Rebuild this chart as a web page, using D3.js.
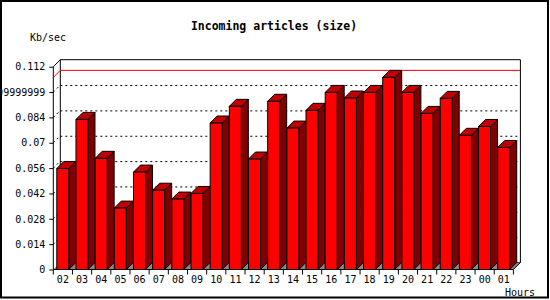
<!DOCTYPE html>
<html>
<head>
<meta charset="utf-8">
<script src="https://cdn.jsdelivr.net/npm/d3@7"></script>
<style>
  body { margin: 0; background: #fff; }
  svg text { font-family: "DejaVu Sans Mono", "Liberation Mono", monospace; }
</style>
</head>
<body>
<div id="chart"></div>
<script>
// hours on the x axis
const hours = ["02","03","04","05","06","07","08","09","10","11","12","13",
               "14","15","16","17","18","19","20","21","22","23","00","01"];
// incoming size, Kb/sec
const sizes = [0.0558, 0.0829, 0.0614, 0.0339, 0.0538, 0.0438, 0.0389, 0.0420,
               0.0809, 0.0901, 0.0610, 0.0929, 0.0781, 0.0879, 0.0978, 0.0947,
               0.0978, 0.1061, 0.0978, 0.0862, 0.0945, 0.0741, 0.0790, 0.0674];
const yTicks = [0, 0.014, 0.028, 0.042, 0.056, 0.07, 0.084, 0.098, 0.112];
const yTickLabels = ["0","0.014","0.028","0.042","0.056","0.07","0.084","0.09999999","0.112"];

const width = 550, height = 300;
const depth = 7; // 3d offset

const svg = d3.select("#chart").append("svg")
    .attr("width", width).attr("height", height);

// outer frame
svg.append("rect")
    .attr("x", 1).attr("y", 1).attr("width", 547).attr("height", 296.5)
    .attr("fill", "#fff").attr("stroke", "#000").attr("stroke-width", 2);

const x = d3.scaleBand().domain(hours).range([53.3, 513.4]);
const y = d3.scaleLinear().domain([0, 0.112]).range([269.5, 66.7]);
const x0 = x.range()[0], x1 = x.range()[1];
const yb = y(0), yt = y(0.112);

// back plane
svg.append("path")
    .attr("d", `M${x0 + depth},${yt - depth}H${x1 + depth}V${yb - depth}H${x0 + depth}Z`)
    .attr("fill", "#fff").attr("stroke", "#000");

// floor
svg.append("path")
    .attr("d", `M${x0},${yb}L${x0 + depth},${yb - depth}H${x1 + depth}L${x1},${yb}Z`)
    .attr("fill", "#888").attr("stroke", "none");

// dotted grid on back plane and left wall
const grid = svg.append("g").attr("stroke", "#000").attr("stroke-dasharray", "2,3");
yTicks.filter(v => v > 0 && v < 0.112).forEach(v => {
    grid.append("line")
        .attr("x1", x0 + depth).attr("x2", x1 + depth)
        .attr("y1", y(v) - depth + 0.5).attr("y2", y(v) - depth + 0.5);
    grid.append("line")
        .attr("x1", x0).attr("y1", y(v))
        .attr("x2", x0 + depth).attr("y2", y(v) - depth);
});

// max line in red
const maxVal = d3.max(sizes);
svg.append("path")
    .attr("d", `M${x0},${y(maxVal)}L${x0 + depth},${y(maxVal) - depth}H${x1 + depth}`)
    .attr("fill", "none").attr("stroke", "#ff0000");

// bars
const barOff = 3.5, barW = 12;
const bars = svg.append("g").attr("stroke", "#000").attr("stroke-width", 1)
    .attr("stroke-linejoin", "round");
hours.forEach((h, i) => {
    const bx = x(h) + barOff, by = y(sizes[i]);
    bars.append("path") // side
        .attr("d", `M${bx + barW},${by}L${bx + barW + depth},${by - depth}V${yb - depth}L${bx + barW},${yb}Z`)
        .attr("fill", "#800000");
    bars.append("path") // top
        .attr("d", `M${bx},${by}L${bx + depth},${by - depth}H${bx + barW + depth}L${bx + barW},${by}Z`)
        .attr("fill", "#c00000");
    bars.append("rect") // front
        .attr("x", bx).attr("y", by).attr("width", barW).attr("height", yb - by)
        .attr("fill", "#ff0000");
});

// y axis
const yAxis = svg.append("g").attr("transform", `translate(${x0},0)`)
    .call(d3.axisLeft(y).tickValues(yTicks)
        .tickFormat((d, i) => yTickLabels[i]).tickSize(4).tickPadding(4).tickSizeOuter(0));
yAxis.select(".domain").remove();
yAxis.selectAll("text").attr("font-size", 10).attr("fill", "#000")
    .style("font-family", "'DejaVu Sans Mono', monospace");
svg.append("path")
    .attr("d", `M${x0 + depth},${yt - depth}L${x0},${yt}V${yb}`)
    .attr("fill", "none").attr("stroke", "#000");

// x axis
const xAxis = svg.append("g").attr("transform", `translate(0,${yb})`)
    .call(d3.axisBottom(x).tickSize(0).tickPadding(6.5));
xAxis.select(".domain").remove();
xAxis.selectAll("text").attr("font-size", 10).attr("fill", "#000")
    .style("font-family", "'DejaVu Sans Mono', monospace");
svg.append("path")
    .attr("d", `M${x0},${yb}H${x1}L${x1 + depth},${yb - depth}`)
    .attr("fill", "none").attr("stroke", "#000");
// ticks between hours
svg.append("g").selectAll("line")
    .data(hours.map(h => x(h)).concat([x1]))
    .join("line")
    .attr("x1", d => d).attr("x2", d => d)
    .attr("y1", yb).attr("y2", yb + 5)
    .attr("stroke", "#000");

// titles
svg.append("text")
    .attr("x", 274).attr("y", 29.5).attr("text-anchor", "middle")
    .attr("font-size", 11.5).attr("font-weight", "bold")
    .text("Incoming articles (size)");
svg.append("text")
    .attr("x", 30).attr("y", 40.5).attr("font-size", 10)
    .text("Kb/sec");
svg.append("text")
    .attr("x", 505).attr("y", 295.5).attr("font-size", 10)
    .text("Hours");
</script>
</body>
</html>
